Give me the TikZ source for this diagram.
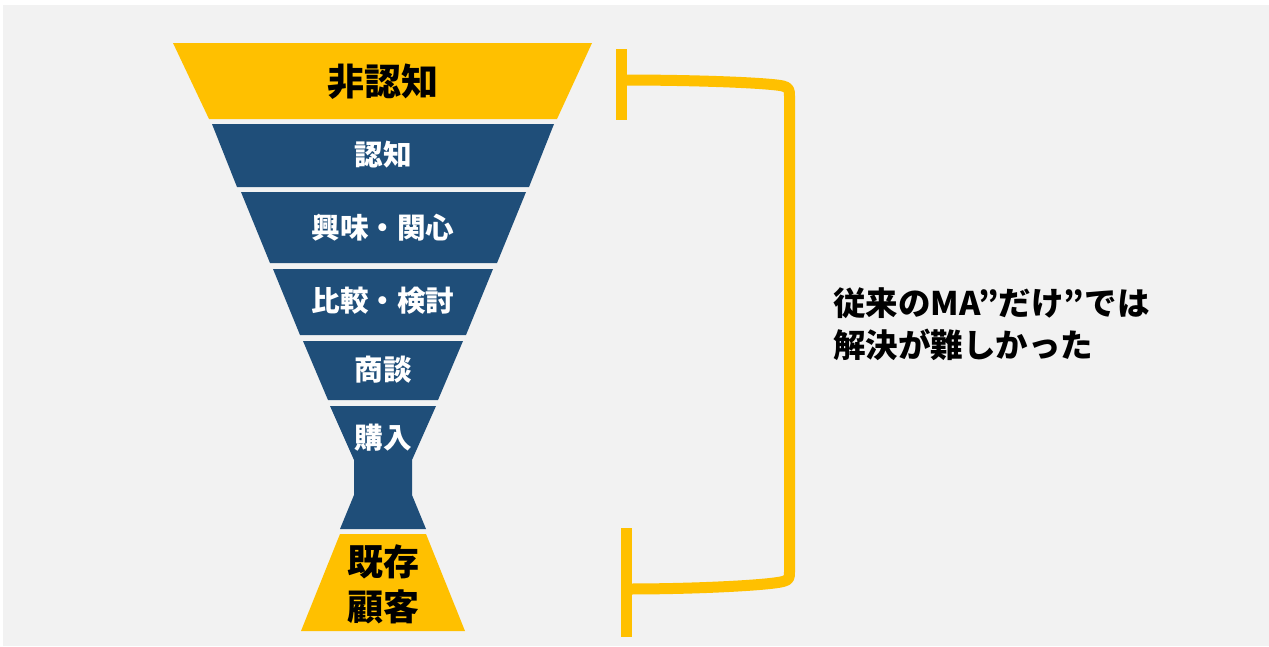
\documentclass[tikz,border=0pt]{standalone}
\usepackage{fontspec}
\newfontfamily\jp{Noto Sans CJK JP}
\definecolor{bg}{HTML}{F2F2F2}
\definecolor{fy}{HTML}{FFC000}
\definecolor{fb}{HTML}{1F4E79}
\begin{document}
\begin{tikzpicture}[x=1pt,y=-1pt,
  ybox/.style={fill=fy},
  bbox/.style={fill=fb},
  wlab/.style={text=white,font=\jp\bfseries\fontsize{28.6}{32}\selectfont,inner sep=0pt},
  klab/.style={text=black,font=\jp\bfseries\fontsize{36}{45}\selectfont,inner sep=0pt,align=center},
  brk/.style={draw=fy,line width=11pt}]
\useasboundingbox (0,0) rectangle (1269,646);
\fill[white] (0,0) rectangle (1269,646);
\fill[bg] (3,5) rectangle (1269,646);
% funnel
\path[ybox] (173,43) -- (592,43) -- (557,119) -- (209,119) -- cycle;
\path[bbox] (212,124) -- (554,124) -- (529,187) -- (237,187) -- cycle;
\path[bbox] (241,192) -- (526,192) -- (497,263) -- (270,263) -- cycle;
\path[bbox] (273,269) -- (493,269) -- (466,335) -- (300,335) -- cycle;
\path[bbox] (303,341) -- (463,341) -- (438,400) -- (328,400) -- cycle;
\path[bbox] (330,406) -- (436,406) -- (412,460) -- (412,495) -- (426,529) -- (340,529) -- (354,495) -- (354,460) -- cycle;
\path[ybox] (340,534) -- (426,534) -- (465,631) -- (301,631) -- cycle;
% labels
\node[klab,font=\jp\bfseries\fontsize{37}{45}\selectfont] (hn) at (383,82) {非認知};
\node[wlab] (n1) at (383,155) {認知};
\node[wlab] (n2) at (383,228) {興味・関心};
\node[wlab] (n3) at (383,301) {比較・検討};
\node[wlab] (n4) at (383,370) {商談};
\node[wlab] (n5) at (383,438) {購入};
\node[klab] (kk) at (383,584) {既存\\顧客};
% bracket
\draw[draw=fy,line width=11pt] (621.5,49) -- (621.5,120);
\draw[draw=fy,line width=11pt] (626.5,528) -- (626.5,637);
\draw[brk,line join=round] (621.5,80) .. controls (700,80) and (770,83) .. (783,86) .. controls (789,87.5) and (789.5,90) .. (789.5,96) -- (789.5,572) .. controls (789.5,578) and (789,580) .. (783,581.5) .. controls (770,585) and (700,589) .. (626.5,589);
% text
\node[anchor=west,inner sep=0pt,align=left,font=\jp\bfseries\fontsize{32.5}{42}\selectfont] (txt) at (833,324) {従来のMA”だけ”では\\解決が難しかった};
\end{tikzpicture}
\end{document}
